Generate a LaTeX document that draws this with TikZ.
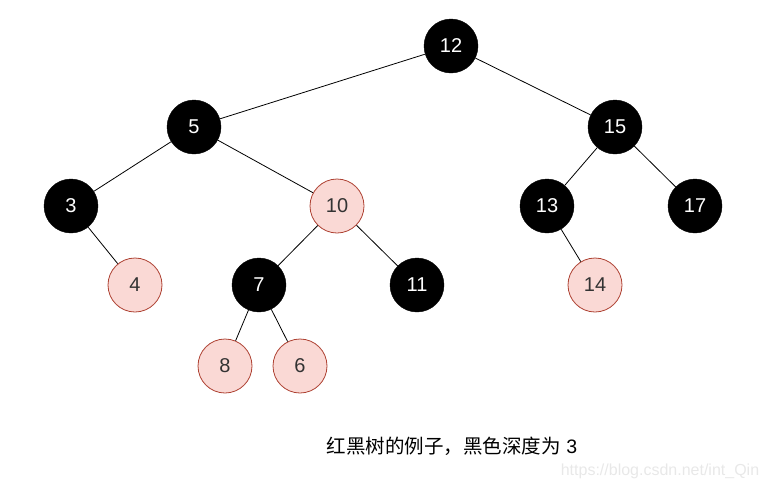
\documentclass[tikz,border=0pt]{standalone}
\usepackage{fontspec}
\setmainfont{Liberation Sans}
\newfontfamily\cjk{Noto Sans CJK SC}
\definecolor{pinkfill}{HTML}{FAD9D5}
\definecolor{pinkdraw}{HTML}{AE4132}
\definecolor{txtgray}{HTML}{333333}
\definecolor{wmgray}{HTML}{E8E8E8}
\begin{document}
\begin{tikzpicture}[x=1pt,y=-1pt,
  base/.style={circle,minimum size=54pt,inner sep=0pt,font=\fontsize{20}{22}\selectfont},
  blk/.style={base,fill=black,draw=black,text=white},
  red/.style={base,fill=pinkfill,draw=pinkdraw,line width=0.8pt,text=txtgray},
  edge/.style={draw=black,line width=0.8pt}]
\useasboundingbox (0,0) rectangle (766,491);
\node[blk] (n12) at (451,46) {12};
\node[blk] (n5) at (194,127) {5};
\node[blk] (n15) at (615,127) {15};
\node[blk] (n3) at (71,206) {3};
\node[red] (n10) at (337,206) {10};
\node[blk] (n13) at (547,206) {13};
\node[blk] (n17) at (695,206) {17};
\node[red] (n4) at (135,285) {4};
\node[blk] (n7) at (259,285) {7};
\node[blk] (n11) at (417,285) {11};
\node[red] (n14) at (595,285) {14};
\node[red] (n8) at (225,366) {8};
\node[red] (n6) at (300,366) {6};
\foreach \a/\b in {n12/n5,n12/n15,n5/n3,n5/n10,n15/n13,n15/n17,n3/n4,n10/n7,n10/n11,n13/n14,n7/n8,n7/n6}
  \draw[edge] (\a) -- (\b);
\node[font=\fontsize{19.5}{22}\selectfont,text=black] (cap) at (452,446) {{\cjk 红黑树的例子，黑色深度为} 3};
\node[font=\fontsize{16}{18}\selectfont,text=wmgray] (wm) at (660,471) {https://blog.csdn.net/int\_Qin};
\end{tikzpicture}
\end{document}
